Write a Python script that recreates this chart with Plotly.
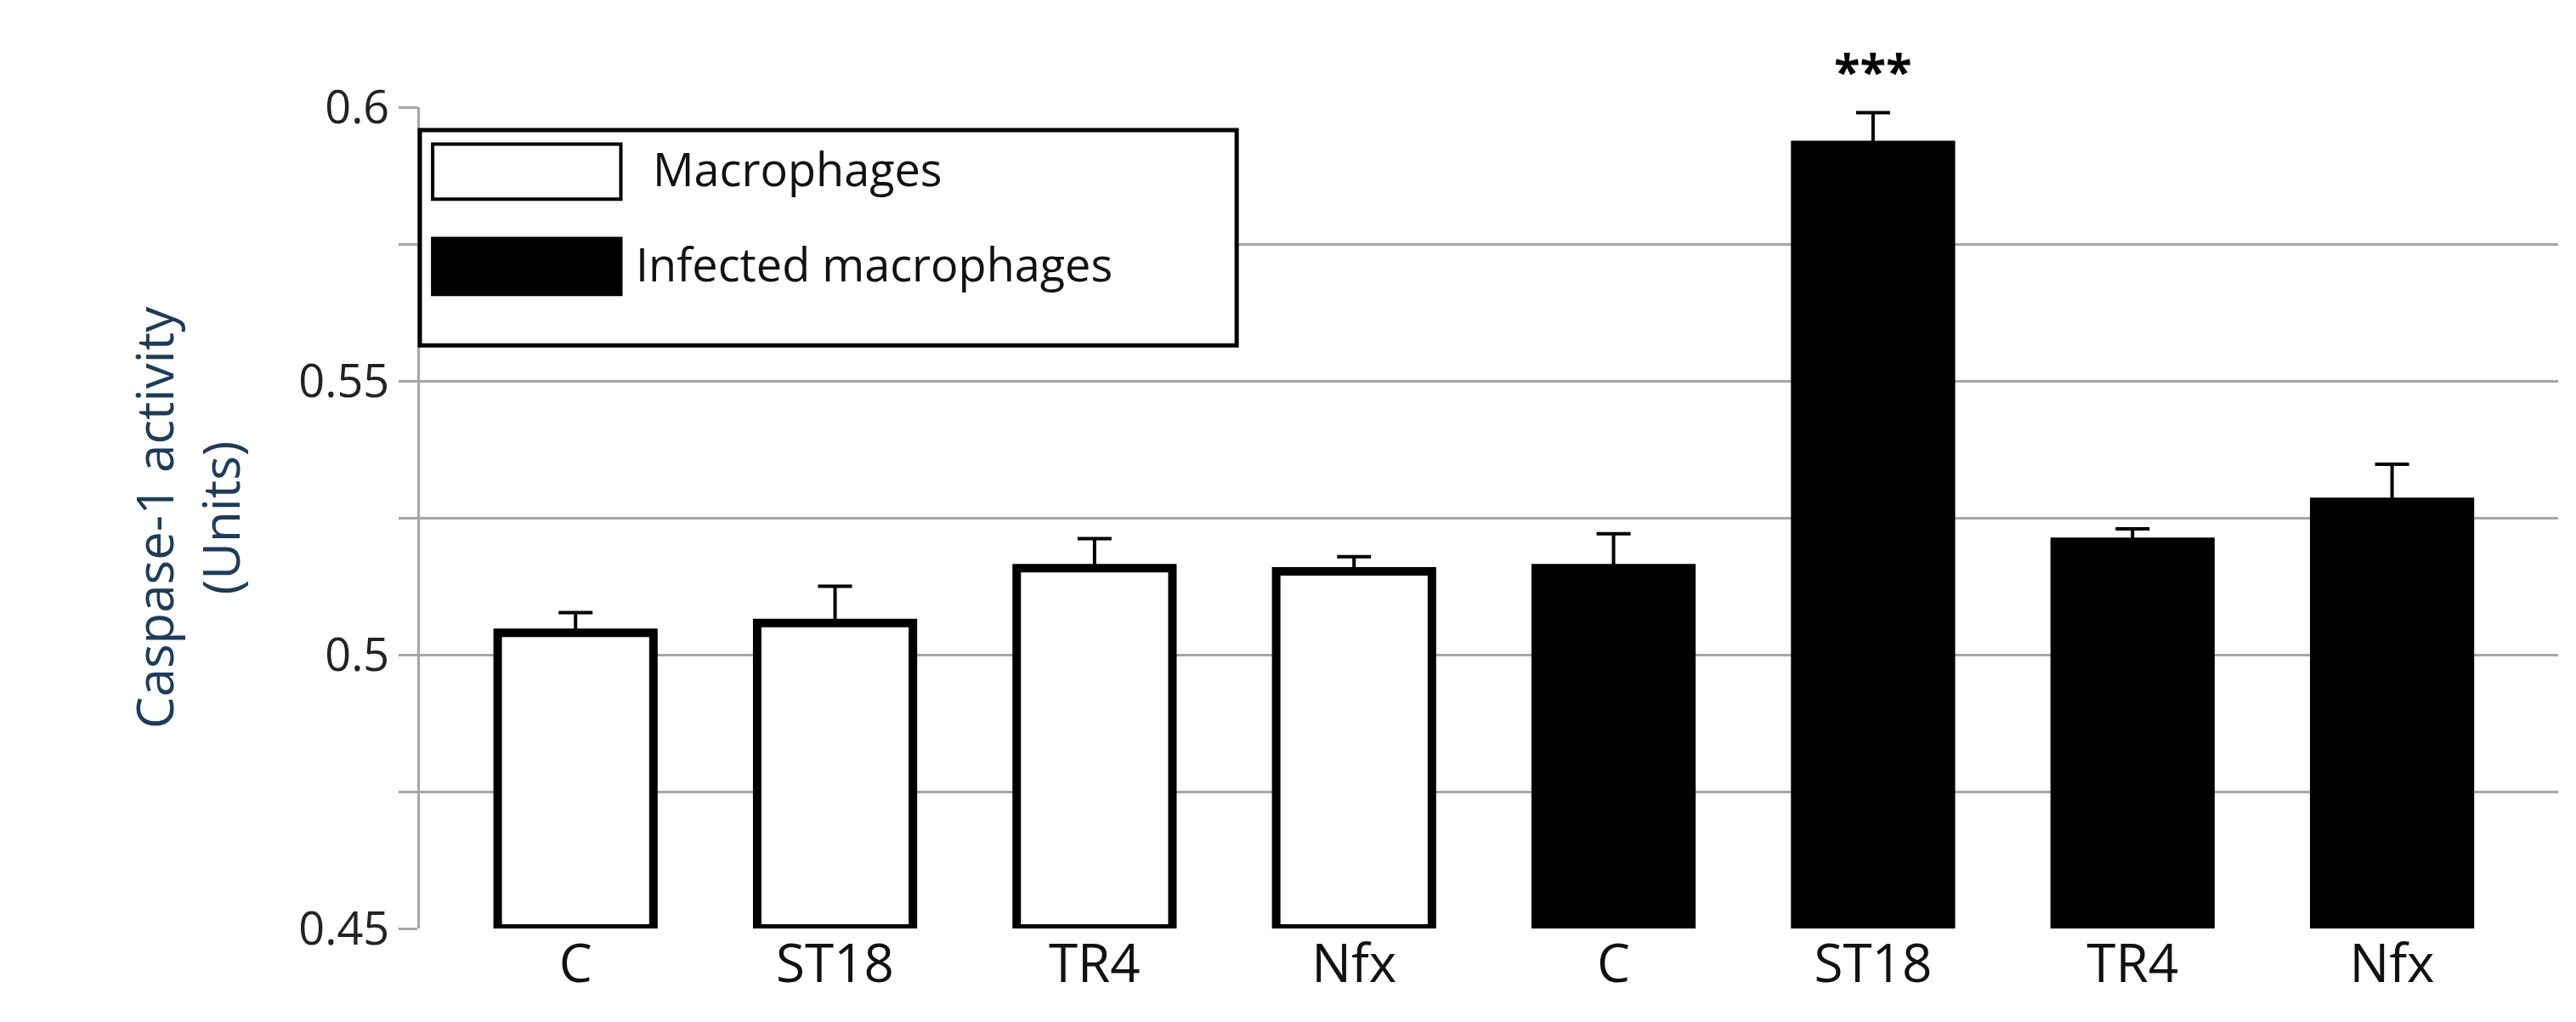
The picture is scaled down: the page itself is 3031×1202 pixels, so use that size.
import plotly.graph_objects as go

labels = ["C", "ST18", "TR4", "Nfx", "C", "ST18", "TR4", "Nfx"]
values = [0.504, 0.5058, 0.5158, 0.5152, 0.5158, 0.5931, 0.5206, 0.5279]
errors = [0.0037, 0.0067, 0.0054, 0.0027, 0.0063, 0.0059, 0.0024, 0.0069]
groups = ["Macrophages"] * 4 + ["Infected macrophages"] * 4
stars = ["", "", "", "", "", "***", "", ""]
x = list(range(len(labels)))

fig = go.Figure()
for g, fill in [("Macrophages", "white"), ("Infected macrophages", "black")]:
    idx = [i for i in x if groups[i] == g]
    fig.add_bar(x=[x[i] for i in idx], y=[values[i] - 0.45 for i in idx], base=0.45,
                width=0.6, marker=dict(color=fill, line=dict(color="black", width=10)),
                error_y=dict(type="data", symmetric=False, array=[errors[i] for i in idx],
                             arrayminus=[0] * len(idx), color="black", thickness=4, width=20),
                showlegend=False)

for i in x:
    if stars[i]:
        fig.add_annotation(x=i, y=values[i] + errors[i], text="<b>" + stars[i] + "</b>", showarrow=False,
                           yanchor="bottom", yshift=10, font=dict(size=56, color="black", family="Open Sans"))

# legend box
fig.add_shape(type="rect", xref="paper", yref="paper", x0=0.0, x1=0.382, y0=0.71, y1=0.972,
              line=dict(color="black", width=5), fillcolor="white")
fig.add_shape(type="rect", xref="paper", yref="paper", x0=0.006, x1=0.094, y0=0.888, y1=0.955,
              line=dict(color="black", width=4), fillcolor="white")
fig.add_shape(type="rect", xref="paper", yref="paper", x0=0.006, x1=0.094, y0=0.772, y1=0.84,
              line=dict(color="black", width=4), fillcolor="black")
fig.add_annotation(xref="paper", yref="paper", x=0.108, y=0.925, text="Macrophages", showarrow=False,
                   xanchor="left", yanchor="middle", font=dict(size=54, color="#111", family="Open Sans"))
fig.add_annotation(xref="paper", yref="paper", x=0.1, y=0.81, text="Infected macrophages", showarrow=False,
                   xanchor="left", yanchor="middle", font=dict(size=54, color="#111", family="Open Sans"))

fig.update_layout(
    width=3031, height=1202, plot_bgcolor="white", paper_bgcolor="white",
    margin=dict(l=486, r=29, t=118, b=118),
    font=dict(family="Open Sans", color="#222"),
    xaxis=dict(tickvals=x, ticktext=labels, range=[-0.6, 7.64], showgrid=False,
               tickfont=dict(size=62, color="#111"), ticks="", zeroline=False),
    yaxis=dict(range=[0.45, 0.6], tickvals=[0.45, 0.475, 0.5, 0.525, 0.55, 0.575, 0.6],
               ticktext=["0.45", "", "0.5", "", "0.55", "", "0.6"],
               showgrid=True, gridcolor="#a6a6a6", gridwidth=3,
               showline=True, linecolor="#a6a6a6", linewidth=3,
               ticks="outside", ticklen=22, tickcolor="#a6a6a6", tickwidth=3,
               tickfont=dict(size=54, color="#222"), zeroline=False,
               title=dict(text="Caspase-1 activity<br>(Units)", font=dict(size=60, color="#1d3c5a"), standoff=50)),
)
fig.write_html("out.html")
